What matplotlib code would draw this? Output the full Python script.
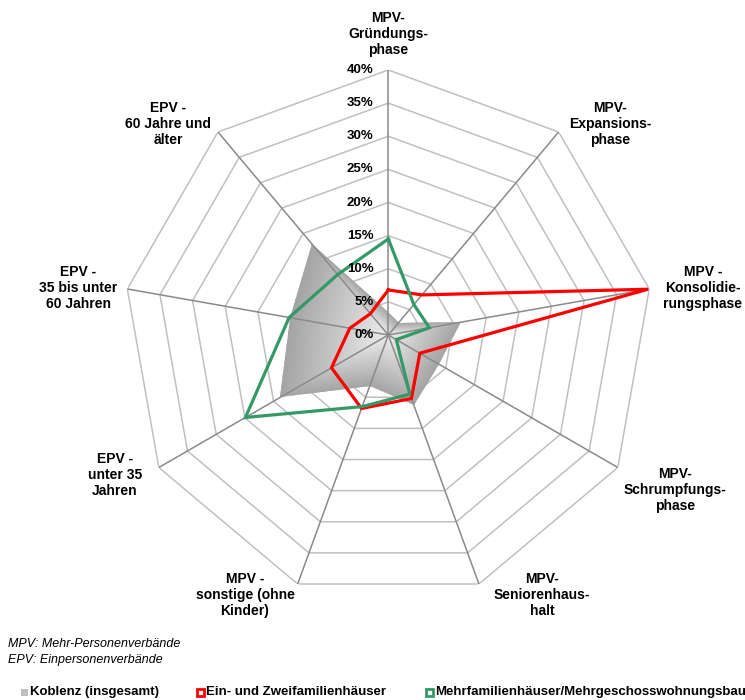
import numpy as np
import matplotlib
matplotlib.use("Agg")
import matplotlib.pyplot as plt
from matplotlib.colors import LinearSegmentedColormap
from matplotlib.patches import Rectangle
from matplotlib.transforms import offset_copy

plt.rcParams["font.family"] = ["Liberation Sans", "DejaVu Sans"]

# Household types (axes of the radar, clockwise from the top)
categories = [
    "MPV-\nGründungs-\nphase",
    "MPV-\nExpansions-\nphase",
    "MPV -\nKonsolidie-\nrungsphase",
    "MPV-\nSchrumpfungs-\nphase",
    "MPV-\nSeniorenhaus-\nhalt",
    "MPV -\nsonstige (ohne\nKinder)",
    "EPV -\nunter 35\nJahren",
    "EPV -\n35 bis unter\n60 Jahren",
    "EPV -\n60 Jahre und\nälter",
]

# Shares in percent
koblenz = [3.5, 2.4, 11.2, 8.8, 11.2, 8.2, 18.8, 15.0, 18.0]
ein_zwei = [6.8, 7.9, 39.8, 5.5, 10.2, 11.8, 9.9, 5.9, 4.2]
mehr = [14.5, 6.0, 6.3, 1.4, 9.5, 11.5, 24.9, 15.2, 11.9]

series_names = ["Koblenz (insgesamt)", "Ein- und Zweifamilienhäuser",
                "Mehrfamilienhäuser/Mehrgeschosswohnungsbau"]
ring_values = [0, 5, 10, 15, 20, 25, 30, 35, 40]
footnotes = ["MPV: Mehr-Personenverbände", "EPV: Einpersonenverbände"]

W, H = 745, 700
fig = plt.figure(figsize=(W / 100, H / 100), dpi=100)

# polar axes centred at (388, 335) px with 265 px outer radius
cx, cy, R = 388.3, 335.0, 265.0
ax = fig.add_axes([(cx - R) / W, (H - cy - R) / H, 2 * R / W, 2 * R / H],
                  projection="polar")
ax.set_theta_offset(np.pi / 2)
ax.set_theta_direction(-1)
ax.set_ylim(0, 40)
ax.grid(False)
ax.set_xticks([])
ax.set_yticks([])
ax.spines["polar"].set_visible(False)
ax.patch.set_visible(False)

n = len(categories)
angles = np.arange(n) * 2 * np.pi / n
closed = np.append(angles, angles[0])

# spider-web rings
for v in ring_values[1:]:
    ax.plot(closed, [v] * (n + 1), color="#c0c0c0", lw=1.1, zorder=1)

# gray area with a gradient running from the centre out to its border
kv = np.array(koblenz, dtype=float)
fill_patch = ax.fill(closed, np.append(kv, kv[0]), facecolor="none",
                     edgecolor="none", zorder=2)[0]


def border_radius(phi):
    phi = np.mod(phi, 2 * np.pi)
    i = np.minimum((phi // (2 * np.pi / n)).astype(int), n - 1)
    j = (i + 1) % n
    a_i = angles[i]
    d = 2 * np.pi / n
    r_i, r_j = kv[i], kv[j]
    return r_i * r_j * np.sin(d) / (r_i * np.sin(phi - a_i) + r_j * np.sin(a_i + d - phi))


t_edges = np.linspace(0, 2 * np.pi, 721)
r_edges = np.linspace(0, kv.max() + 1, 160)
t_mid = 0.5 * (t_edges[:-1] + t_edges[1:])
r_mid = 0.5 * (r_edges[:-1] + r_edges[1:])
TT, RR = np.meshgrid(t_mid, r_mid)
C = np.clip(RR / border_radius(TT), 0, 1)
cmap = LinearSegmentedColormap.from_list("fill", ["#ececec", "#a4a4a4"])
mesh = ax.pcolormesh(t_edges, r_edges, C, cmap=cmap, vmin=0, vmax=1,
                     shading="flat", zorder=2, rasterized=True)
mesh.set_clip_path(fill_patch)

# spokes
for a in angles:
    ax.plot([a, a], [0, 40], color="#8a8a8a", lw=1.1, zorder=3)

# series lines
ax.plot(closed, ein_zwei + ein_zwei[:1], color="#ff0000", lw=2.3, zorder=4,
        solid_joinstyle="miter")
ax.plot(closed, mehr + mehr[:1], color="#339966", lw=2.3, zorder=5,
        solid_joinstyle="miter")

# radial tick labels along the top spoke
tick_tr = offset_copy(ax.transData, fig=fig, x=-15, y=0, units="dots")
for v in ring_values:
    ax.text(0, v, f"{v}%", transform=tick_tr, ha="right", va="center",
            fontsize=9.5, fontweight="bold", zorder=6)

# category labels (pixel centres of each text block)
label_pos = [(388, 34), (610, 124), (703, 288), (675, 490), (542, 595),
             (245, 595), (115, 475), (78, 288), (168, 124)]
for text, (x, y) in zip(categories, label_pos):
    fig.text(x / W, 1 - y / H, text, ha="center", va="center", fontsize=10,
             fontweight="bold", linespacing=1.18)

# footnotes
for k, t in enumerate(footnotes):
    fig.text(8 / W, 1 - (644 + 16 * k) / H, t, ha="left", va="center",
             fontsize=9, style="italic")

# legend
leg_y = 692
markers = [(21, "#c0c0c0", "#c0c0c0", 0), (197, "white", "#ff0000", 2.0),
           (426, "white", "#339966", 2.0)]
for (mx, fc, ec, lw), name in zip(markers, series_names):
    fig.patches.append(Rectangle((mx / W, 1 - (leg_y + 3.5) / H), 7 / W, 7 / H,
                                 transform=fig.transFigure, facecolor=fc,
                                 edgecolor=ec, lw=lw))
    fig.text((mx + 9) / W, 1 - leg_y / H, name, ha="left", va="center",
             fontsize=9.5, fontweight="bold")

fig.savefig("out.png", dpi=100)
